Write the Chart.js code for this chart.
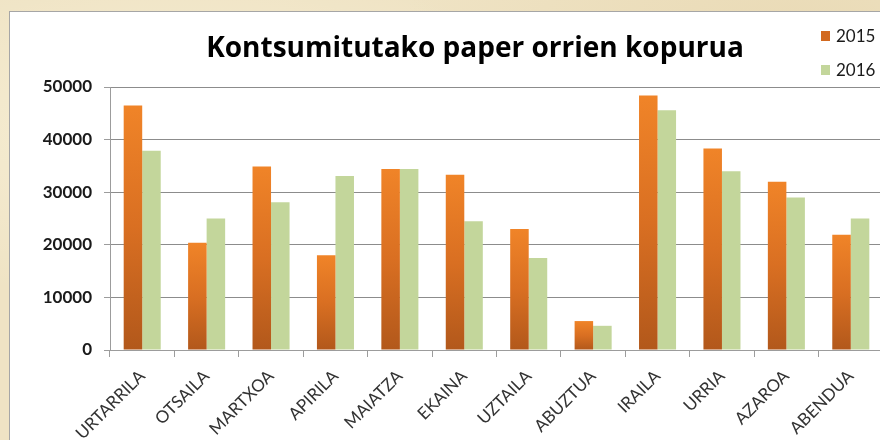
<!DOCTYPE html>
<html>
<head>
<meta charset="utf-8">
<script src="https://cdn.jsdelivr.net/npm/chart.js@4"></script>
<style>
  html, body { margin: 0; padding: 0; width: 880px; height: 440px; overflow: hidden; }
  body {
    background-color: #efe3c4;
    background-image:
      radial-gradient(ellipse at 20% 30%, rgba(255,250,230,0.5), rgba(255,250,230,0) 40%),
      radial-gradient(ellipse at 70% 80%, rgba(215,195,150,0.35), rgba(215,195,150,0) 45%),
      radial-gradient(ellipse at 90% 10%, rgba(225,205,160,0.4), rgba(225,205,160,0) 35%);
    position: relative;
    font-family: Lato, "Open Sans", sans-serif;
  }
  #panel {
    position: absolute; left: 9px; top: 11px; width: 900px; height: 460px;
    background: #fff; border: 1px solid #a6a6a6;
  }
  #grafico { position: absolute; left: 10px; top: 12px; }
  #titulo {
    position: absolute; left: 175px; width: 600px; top: 29px; text-align: center;
    font: bold 28px "Open Sans", sans-serif; color: #000; line-height: 34px;
  }
  #leyenda { position: absolute; left: 820px; top: 24px; }
  .item { position: relative; height: 34px; font: 17px Lato, sans-serif; color: #1a1a1a; line-height: 24px; }
  .item span.cuadro { position: absolute; left: 1px; top: 7px; width: 9px; height: 10px; }
  .item span.txt { position: absolute; left: 16px; top: 0; }
</style>
</head>
<body>
<div id="panel"></div>
<canvas id="grafico" width="880" height="428"></canvas>
<div id="titulo">Kontsumitutako paper orrien kopurua</div>
<div id="leyenda"></div>
<script>
// datos del grafico
const meses = ['URTARRILA', 'OTSAILA', 'MARTXOA', 'APIRILA', 'MAIATZA', 'EKAINA',
               'UZTAILA', 'ABUZTUA', 'IRAILA', 'URRIA', 'AZAROA', 'ABENDUA'];
const serie2015 = [46500, 20400, 34900, 18000, 34400, 33300, 23000, 5500, 48400, 38300, 32000, 21900];
const serie2016 = [37900, 25000, 28100, 33100, 34400, 24500, 17500, 4600, 45600, 34000, 29000, 25000];
const ticksY = [0, 10000, 20000, 30000, 40000, 50000];

// degradado naranja por barra (claro arriba, oscuro abajo)
function naranja(context) {
    const chart = context.chart;
    if (!chart.chartArea || !chart.scales.y) return '#e07a25';
    const y = chart.scales.y;
    const arriba = y.getPixelForValue(context.raw);
    const abajo = y.getPixelForValue(0);
    if (!isFinite(arriba) || abajo - arriba < 1) return '#e07a25';
    const g = chart.ctx.createLinearGradient(0, arriba, 0, abajo);
    g.addColorStop(0, '#f08428');
    g.addColorStop(0.5, '#d96f22');
    g.addColorStop(1, '#b2581b');
    return g;
}

const ctx = document.getElementById('grafico').getContext('2d');
const grafico = new Chart(ctx, {
    type: 'bar',
    data: {
        labels: meses,
        datasets: [
            {
                label: '2015',
                data: serie2015,
                backgroundColor: naranja,
                legendColor: '#d2691f',
                borderWidth: 0,
                categoryPercentage: 0.575,
                barPercentage: 1.0
            },
            {
                label: '2016',
                data: serie2016,
                backgroundColor: '#c3d69b',
                legendColor: '#c3d69b',
                borderWidth: 0,
                categoryPercentage: 0.575,
                barPercentage: 1.0
            }
        ]
    },
    options: {
        responsive: false,
        animation: false,
        layout: { padding: { left: 10, right: 7, top: 75, bottom: 0 } },
        plugins: {
            legend: { display: false },
            title: { display: false },
            tooltip: { enabled: false }
        },
        scales: {
            y: {
                min: 0,
                max: 50000,
                afterFit: s => { s.width = 90; },
                afterBuildTicks: s => { s.ticks = ticksY.map(v => ({ value: v })); },
                border: { color: '#9c9c9c', width: 1 },
                grid: { color: '#8c8c8c', lineWidth: 1, tickLength: 6, tickColor: '#9c9c9c' },
                ticks: {
                    padding: 12,
                    color: '#1a1a1a',
                    font: { family: 'Lato', size: 17, weight: 'bold' },
                    callback: v => String(v)
                }
            },
            x: {
                afterFit: s => { s.height = 90; },
                border: { color: '#9c9c9c', width: 1 },
                grid: { drawOnChartArea: false, offset: true, tickLength: 7, color: '#9c9c9c' },
                ticks: {
                    minRotation: 45,
                    maxRotation: 45,
                    padding: 9,
                    color: '#333333',
                    font: { family: 'Lato', size: 17 }
                }
            }
        }
    }
});

// leyenda a la derecha, fuera del grafico
const leyenda = document.getElementById('leyenda');
grafico.data.datasets.forEach(ds => {
    const item = document.createElement('div');
    item.className = 'item';
    item.innerHTML = '<span class="cuadro" style="background:' + ds.legendColor + '"></span><span class="txt">' + ds.label + '</span>';
    leyenda.appendChild(item);
});
</script>
</body>
</html>
